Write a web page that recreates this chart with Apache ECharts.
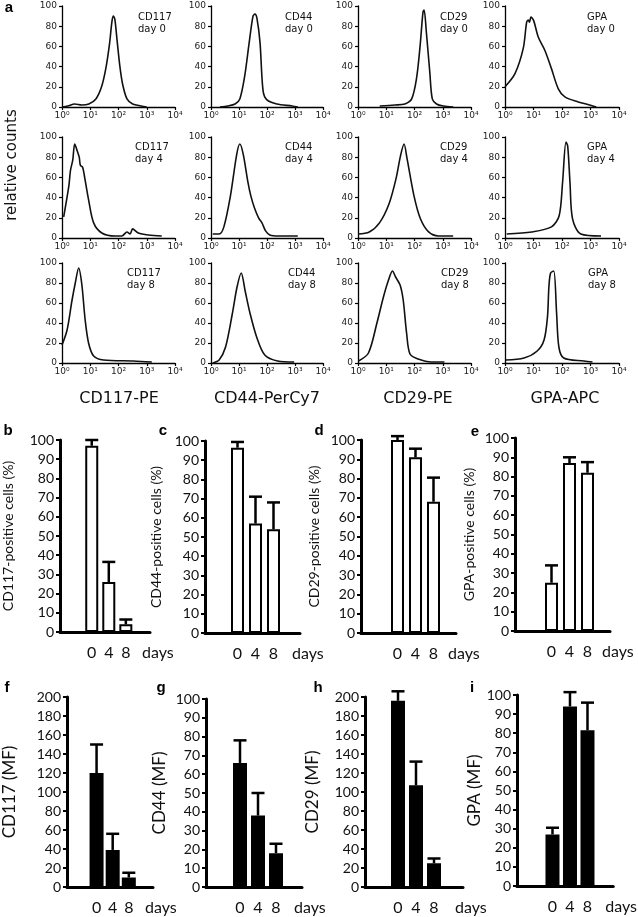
<!DOCTYPE html>
<html>
<head>
<meta charset="utf-8">
<title>Marker expression</title>
<script src="https://cdn.jsdelivr.net/npm/echarts@6/dist/echarts.min.js"></script>
<style>
  html, body { margin: 0; padding: 0; background: #fff; }
  #main { width: 638px; height: 917px; }
</style>
</head>
<body>
<div id="main"></div>
<script>
// histogram x values are log10 of fluorescence, y is relative counts
const decadeLabels = ['10⁰', '10¹', '10²', '10³', '10⁴'];

const cd117Day0 = [[0,0],[0.2,1],[0.45,3],[0.7,2],[0.95,3],[1.2,8],[1.4,20],[1.55,38],[1.68,62],[1.77,85],[1.82,90],[1.87,87],[1.95,66],[2.05,40],[2.15,22],[2.3,8],[2.5,3],[2.8,1],[3.0,0]];
const cd44Day0 = [[0.32,0],[0.6,1],[0.86,3],[1.03,8],[1.2,30],[1.36,63],[1.5,90],[1.57,92],[1.64,88],[1.75,64],[1.86,16],[2.0,7],[2.35,3],[2.9,1],[3.1,0]];
const cd29Day0 = [[0.77,1],[1.3,2],[1.66,3],[1.9,8],[2.07,28],[2.2,61],[2.3,94],[2.34,96],[2.42,74],[2.54,35],[2.63,8],[2.78,3],[3.02,1],[3.37,0]];
const gpaDay0 = [[0,20],[0.35,33],[0.64,58],[0.76,84],[0.82,86],[0.86,84],[0.91,89],[1.0,86],[1.17,69],[1.4,56],[1.63,38],[1.87,18],[2.1,10],[2.57,5],[2.97,2],[3.2,0]];

const cd117Day4 = [[0.06,21],[0.24,51],[0.3,67],[0.38,77],[0.45,93],[0.53,87],[0.61,80],[0.65,72],[0.73,70],[0.82,57],[0.94,38],[1.12,15],[1.41,5],[1.88,2],[2.12,2],[2.3,6],[2.41,4],[2.5,9],[2.7,5],[3.06,3],[3.53,2]];
const cd44Day4 = [[0.06,4],[0.29,4],[0.46,11],[0.69,41],[0.92,83],[1.03,93],[1.15,83],[1.32,55],[1.42,42],[1.55,30],[1.7,20],[1.82,15],[1.95,7],[2.1,3],[2.41,2],[3.1,2]];
const cd29Day4 = [[0,4],[0.4,6],[0.76,15],[1.1,34],[1.34,58],[1.51,82],[1.63,93],[1.74,78],[1.98,42],[2.21,19],[2.5,6],[2.85,2],[3.37,2]];
const gpaDay4 = [[0.06,4],[0.94,6],[1.63,11],[1.9,22],[2.02,55],[2.14,95],[2.2,91],[2.28,55],[2.37,19],[2.66,4],[3.37,2]];

const cd117Day8 = [[0,18],[0.18,33],[0.35,62],[0.47,80],[0.59,95],[0.7,79],[0.82,43],[0.94,20],[1.12,7],[1.47,3],[2.53,2],[3.18,1]];
const cd44Day8 = [[0.06,0],[0.29,3],[0.52,16],[0.76,49],[0.93,76],[1.08,90],[1.22,72],[1.4,49],[1.63,26],[1.92,8],[2.38,2],[2.97,1]];
const cd29Day8 = [[0.02,2],[0.37,10],[0.67,40],[0.9,66],[1.08,83],[1.22,92],[1.33,86],[1.49,78],[1.6,63],[1.72,30],[1.84,9],[2.13,4],[2.6,1],[3.06,1]];
const gpaDay8 = [[0.02,3],[0.67,5],[1.13,12],[1.37,23],[1.49,46],[1.54,76],[1.6,90],[1.71,92],[1.81,50],[1.89,16],[2.06,5],[2.77,2],[3.07,1]];

// bar panels: mean and upper error (sd) for day 0, 4, 8
const days = [0, 4, 8];
const cd117Pct = [97, 26, 4],     cd117PctSd = [3, 10.5, 2.5];
const cd44Pct = [96.5, 57, 54],   cd44PctSd = [3, 14, 14];
const cd29Pct = [100, 91, 68],    cd29PctSd = [2, 4.5, 12.5];
const gpaPct = [25, 87, 82],      gpaPctSd = [9, 3, 5.5];
const cd117Mf = [120, 39, 10],    cd117MfSd = [30, 17, 5];
const cd44Mf = [66, 38, 18],      cd44MfSd = [12, 12, 5];
const cd29Mf = [196, 107, 25],    cd29MfSd = [10, 25, 5];
const gpaMf = [27, 94, 81.5],     gpaMfSd = [3.5, 7.5, 14.5];

const histograms = [
  {marker: 'CD117', day: 0, points: cd117Day0},
  {marker: 'CD44', day: 0, points: cd44Day0},
  {marker: 'CD29', day: 0, points: cd29Day0},
  {marker: 'GPA', day: 0, points: gpaDay0},
  {marker: 'CD117', day: 4, points: cd117Day4},
  {marker: 'CD44', day: 4, points: cd44Day4},
  {marker: 'CD29', day: 4, points: cd29Day4},
  {marker: 'GPA', day: 4, points: gpaDay4},
  {marker: 'CD117', day: 8, points: cd117Day8},
  {marker: 'CD44', day: 8, points: cd44Day8},
  {marker: 'CD29', day: 8, points: cd29Day8},
  {marker: 'GPA', day: 8, points: gpaDay8}
];

const barPanels = [
  {yName: 'CD117-positive cells (%)', mean: cd117Pct, sd: cd117PctSd, max: 100, step: 10, fill: '#fff', nameSize: 14},
  {yName: 'CD44-positive cells (%)', mean: cd44Pct, sd: cd44PctSd, max: 100, step: 10, fill: '#fff', nameSize: 14},
  {yName: 'CD29-positive cells (%)', mean: cd29Pct, sd: cd29PctSd, max: 100, step: 10, fill: '#fff', nameSize: 14},
  {yName: 'GPA-positive cells (%)', mean: gpaPct, sd: gpaPctSd, max: 100, step: 10, fill: '#fff', nameSize: 14},
  {yName: 'CD117 (MF)', mean: cd117Mf, sd: cd117MfSd, max: 200, step: 20, fill: '#000', nameSize: 17},
  {yName: 'CD44 (MF)', mean: cd44Mf, sd: cd44MfSd, max: 100, step: 10, fill: '#000', nameSize: 17},
  {yName: 'CD29 (MF)', mean: cd29Mf, sd: cd29MfSd, max: 200, step: 20, fill: '#000', nameSize: 17},
  {yName: 'GPA (MF)', mean: gpaMf, sd: gpaMfSd, max: 100, step: 10, fill: '#000', nameSize: 17}
];

// layout
const histColLeft = [62, 211, 358, 505];
const histColWidth = [113, 112, 113, 114];
const histRowTop = [6, 137, 263];
const histRowHeight = [101, 101, 100];
const histLabelDx = [[76, 74, 82, 82], [73, 74, 82, 82], [65, 77, 83, 83]];
const histLabelDy = [5, 4, 4];

const barLayout = [
  {left: 55, top: 440, width: 95, height: 192, off: 33.5, nameGap: 45, barW: 13},
  {left: 205, top: 441, width: 95, height: 192, off: 32.5, nameGap: 42, barW: 13},
  {left: 361, top: 440, width: 95, height: 193, off: 36.5, nameGap: 40, barW: 13},
  {left: 515, top: 438, width: 95, height: 193, off: 36.5, nameGap: 39, barW: 13},
  {left: 57, top: 697, width: 96, height: 190, off: 33, nameGap: 49, barW: 14},
  {left: 206, top: 699, width: 96, height: 188, off: 34, nameGap: 38, barW: 14},
  {left: 365, top: 697, width: 98, height: 190, off: 33, nameGap: 44, barW: 14},
  {left: 517, top: 695, width: 99, height: 191, off: 36.5, nameGap: 30, barW: 14}
];
const pxPerDay = 4.5;

const grid = [], xAxis = [], yAxis = [], series = [], graphic = [];

histograms.forEach((h, i) => {
  const r = Math.floor(i / 4), c = i % 4;
  grid.push({left: histColLeft[c], top: histRowTop[r], width: histColWidth[c], height: histRowHeight[r]});
  xAxis.push({
    gridIndex: i, type: 'value', min: 0, max: 4, interval: 1,
    axisLine: {onZero: false, lineStyle: {color: '#000', width: 1.3}},
    axisTick: {show: true, length: 3, lineStyle: {color: '#000', width: 1.2}},
    splitLine: {show: false},
    axisLabel: {fontFamily: 'DejaVu Sans', fontSize: 9, color: '#222', margin: 4,
      formatter: v => decadeLabels[v]}
  });
  yAxis.push({
    gridIndex: i, type: 'value', min: 0, max: 100, interval: 20,
    axisLine: {show: true, onZero: false, lineStyle: {color: '#000', width: 1.3}},
    axisTick: {show: true, length: 3, lineStyle: {color: '#000', width: 1.2}},
    splitLine: {show: false},
    axisLabel: {fontFamily: 'DejaVu Sans', fontSize: 9, color: '#222', margin: 5}
  });
  series.push({
    type: 'line', xAxisIndex: i, yAxisIndex: i, data: h.points,
    showSymbol: false, smooth: 0.3, silent: true,
    lineStyle: {color: '#111', width: 1.6}
  });
  graphic.push({
    type: 'text', left: histColLeft[c] + histLabelDx[r][c], top: histRowTop[r] + histLabelDy[r],
    style: {text: h.marker + '\nday ' + h.day, font: '10px "DejaVu Sans"', lineHeight: 12, fill: '#111'}
  });
});

function errorBar(params, api) {
  const base = api.coord([api.value(0), api.value(1)]);
  const top = api.coord([api.value(0), api.value(1) + api.value(2)]);
  const half = 6.5;
  const style = {stroke: '#000', lineWidth: 2.5};
  return {
    type: 'group',
    children: [
      {type: 'line', shape: {x1: base[0], y1: base[1], x2: top[0], y2: top[1]}, style: style},
      {type: 'line', shape: {x1: top[0] - half, y1: top[1], x2: top[0] + half, y2: top[1]}, style: style}
    ]
  };
}

barPanels.forEach((p, k) => {
  const i = histograms.length + k;
  const L = barLayout[k];
  const min = -L.off / pxPerDay;
  const max = min + L.width / pxPerDay;
  grid.push({left: L.left, top: L.top, width: L.width, height: L.height});
  xAxis.push({
    gridIndex: i, type: 'value', min: min, max: max,
    axisLine: {onZero: false, lineStyle: {color: '#000', width: 3}},
    axisTick: {show: false},
    splitLine: {show: false},
    axisLabel: {customValues: days, fontFamily: 'Lato', fontSize: 16, color: '#111', margin: 13},
    name: 'days', nameLocation: 'end', nameGap: -8,
    nameTextStyle: {fontFamily: 'Lato', fontSize: 16, color: '#111', align: 'left',
      verticalAlign: 'top', padding: [13, 0, 0, 0]}
  });
  yAxis.push({
    gridIndex: i, type: 'value', min: 0, max: p.max, interval: p.step,
    axisLine: {show: true, onZero: false, lineStyle: {color: '#000', width: 3}},
    axisTick: {show: true, length: 4, lineStyle: {color: '#000', width: 2}},
    splitLine: {show: false},
    axisLabel: {fontFamily: 'Lato', fontSize: 14, color: '#111', margin: 6},
    name: p.yName, nameLocation: 'middle', nameGap: L.nameGap,
    nameTextStyle: {fontFamily: 'Lato', fontSize: p.nameSize, color: '#111'}
  });
  series.push({
    type: 'bar', xAxisIndex: i, yAxisIndex: i, barWidth: L.barW, silent: true,
    data: days.map((d, j) => [d, p.mean[j]]),
    itemStyle: {color: p.fill, borderColor: '#000', borderWidth: 2}
  });
  series.push({
    type: 'custom', xAxisIndex: i, yAxisIndex: i, z: 3, silent: true,
    data: days.map((d, j) => [d, p.mean[j], p.sd[j]]),
    renderItem: errorBar
  });
});

// panel letters and shared labels
const letters = [['a', 9, 8], ['b', 8, 431], ['c', 163, 431], ['d', 319, 431], ['e', 475, 432],
  ['f', 7, 688], ['g', 161, 688], ['h', 318, 688], ['i', 472, 688]];
letters.forEach(([t, x, y]) => {
  graphic.push({type: 'text', x: x, y: y,
    style: {text: t, font: 'bold 15px "Liberation Sans"', fill: '#000', align: 'center', verticalAlign: 'middle'}});
});

const columnTitles = ['CD117-PE', 'CD44-PerCy7', 'CD29-PE', 'GPA-APC'];
const columnTitleX = [119, 267, 418, 565];
columnTitles.forEach((t, c) => {
  graphic.push({type: 'text', x: columnTitleX[c], y: 399,
    style: {text: t, font: '16px "DejaVu Sans"', fill: '#111', align: 'center', verticalAlign: 'middle'}});
});
graphic.push({type: 'text', x: 12, y: 165, rotation: Math.PI / 2,
  style: {text: 'relative counts', font: '15px "DejaVu Sans"', fill: '#111', align: 'center', verticalAlign: 'middle'}});

const chart = echarts.init(document.getElementById('main'));
chart.setOption({
  animation: false,
  backgroundColor: '#fff',
  grid: grid,
  xAxis: xAxis,
  yAxis: yAxis,
  series: series,
  graphic: graphic
});
</script>
</body>
</html>
